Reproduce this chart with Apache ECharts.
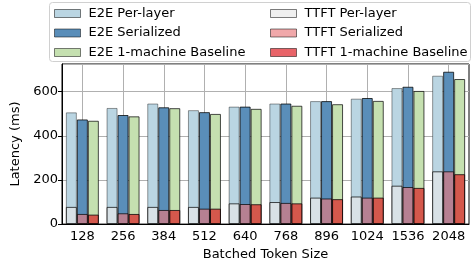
<!DOCTYPE html>
<html lang="en">
<head>
    <meta charset="utf-8" />
    <script src="https://cdn.jsdelivr.net/npm/echarts@6/dist/echarts.min.js"></script>
    <style>
        html, body { margin: 0; padding: 0; background: #fff; }
        #view1 { width: 473px; height: 266px; }
    </style>
</head>
<body>

<div id="view1"></div>

<script>
    // batched token size on x, latency in ms on y
    var categories = ["128", "256", "384", "512", "640", "768", "896", "1024", "1536", "2048"];

    var e2ePerLayer   = [506, 526, 546, 516, 532, 546, 557, 568, 616, 672];
    var e2eSerialized = [474, 494, 529, 507, 532, 546, 557, 571, 622, 690];
    var e2eBaseline   = [468, 488, 525, 499, 522, 536, 543, 558, 603, 657];

    var ttftPerLayer   = [78, 78, 78, 78, 94, 100, 120, 125, 174, 239];
    var ttftSerialized = [46, 49, 64, 70, 91, 96, 116, 120, 168, 239];
    var ttftBaseline   = [43, 46, 64, 70, 90, 94, 113, 120, 164, 226];

    var yTicks = [0, 200, 400, 600];

    var FONT = "DejaVu Sans";

    function bar(name, data, axis, color, border){
        return {
            name: name,
            type: "bar",
            xAxisIndex: axis,
            data: data,
            barWidth: 11,
            barGap: "0%",
            itemStyle: { color: color, borderColor: border, borderWidth: 1 }
        };
    }

    window.onload = function(){
        var chart = echarts.init(document.getElementById("view1"), null, { renderer: "canvas" });

        var legendText = { fontFamily: FONT, fontSize: 13, color: "#000", lineHeight: 13, padding: [0, 0, 0, 3] };
        var legendItem = { borderWidth: 1, borderColor: "rgba(0,0,0,0.5)" };

        var option = {
            animation: false,
            backgroundColor: "#fff",
            grid: { left: 62, right: 4, top: 64, bottom: 35, show: true, borderColor: "#000", borderWidth: 1 },
            graphic: [{
                type: "rect", left: 49, top: 2, z: 90,
                shape: { width: 421, height: 59, r: 3 },
                style: { fill: "rgba(255,255,255,0.85)", stroke: "#d0d0d0", lineWidth: 1 }
            }],
            legend: [{
                orient: "vertical", left: 54, top: 7, padding: 0, z: 100,
                itemWidth: 26, itemHeight: 8, itemGap: 6.5,
                icon: "rect",
                itemStyle: legendItem,
                textStyle: legendText,
                data: ["E2E Per-layer", "E2E Serialized", "E2E 1-machine Baseline"]
            }, {
                orient: "vertical", left: 270, top: 7, padding: 0, z: 100,
                itemWidth: 26, itemHeight: 8, itemGap: 6.5,
                icon: "rect",
                itemStyle: legendItem,
                textStyle: legendText,
                data: ["TTFT Per-layer", "TTFT Serialized", "TTFT 1-machine Baseline"]
            }],
            xAxis: [{
                type: "category",
                data: categories,
                name: "Batched Token Size",
                nameLocation: "middle",
                nameGap: 23,
                nameTextStyle: { fontFamily: FONT, fontSize: 13, color: "#000" },
                axisLine: { lineStyle: { color: "#000", width: 1 } },
                axisTick: { alignWithLabel: true, length: 4, lineStyle: { color: "#000" } },
                axisLabel: { fontFamily: FONT, fontSize: 13, color: "#000", margin: 6, interval: 0 },
                splitLine: { show: true, alignWithLabel: true, lineStyle: { color: "#b0b0b0", width: 1 } }
            }, {
                type: "category",
                data: categories,
                show: false
            }],
            yAxis: {
                type: "value",
                min: 0, max: 725, interval: 200,
                name: "Latency (ms)",
                nameLocation: "middle",
                nameGap: 26,
                nameTextStyle: { fontFamily: FONT, fontSize: 13, color: "#000" },
                axisLine: { show: true, lineStyle: { color: "#000", width: 1 } },
                axisTick: { show: true, length: 4, lineStyle: { color: "#000" } },
                axisLabel: {
                    fontFamily: FONT, fontSize: 13, color: "#000", margin: 4,
                    showMaxLabel: false,
                    formatter: function(v){ return yTicks.indexOf(v) >= 0 ? String(v) : ""; }
                },
                splitLine: { show: true, lineStyle: { color: "#b0b0b0", width: 1 } }
            },
            series: [
                bar("E2E Per-layer", e2ePerLayer, 0, "#bad5e2", "rgba(0,0,0,0.4)"),
                bar("E2E Serialized", e2eSerialized, 0, "#5a8eb9", "rgba(0,0,0,0.75)"),
                bar("E2E 1-machine Baseline", e2eBaseline, 0, "#c5e0b0", "rgba(0,0,0,0.7)"),
                bar("TTFT Per-layer", ttftPerLayer, 1, "rgba(232,232,232,0.65)", "rgba(0,0,0,0.7)"),
                bar("TTFT Serialized", ttftSerialized, 1, "rgba(232,121,124,0.65)", "rgba(0,0,0,0.7)"),
                bar("TTFT 1-machine Baseline", ttftBaseline, 1, "rgba(220,15,23,0.65)", "rgba(0,0,0,0.75)")
            ]
        };

        chart.setOption(option);
    };
</script>

</body>
</html>
